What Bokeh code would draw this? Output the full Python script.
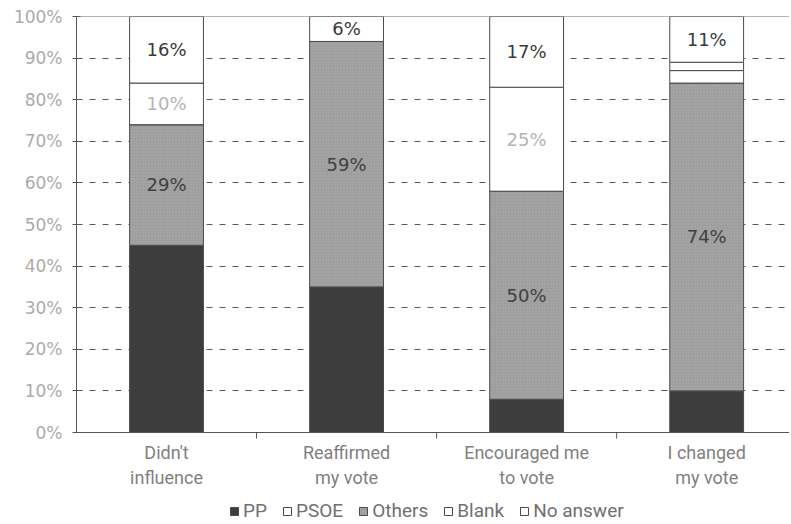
from bokeh.plotting import figure
from bokeh.models import Range1d, FixedTicker, Span, Legend, LegendItem, ColumnDataSource
from bokeh.embed import file_html
from bokeh.resources import INLINE
from bokeh.core.properties import value

# ---- data ----
categories = ["Didn't\ninfluence", "Reaffirmed\nmy vote", "Encouraged me\nto vote", "I changed\nmy vote"]
pp = [45, 35, 8, 10]
others = [29, 59, 50, 74]
psoe = [0, 0, 0, 3]
blank = [10, 0, 25, 2]
no_answer = [16, 6, 17, 11]
y_ticks = [0, 10, 20, 30, 40, 50, 60, 70, 80, 90, 100]
y_tick_labels = ["0%", "10%", "20%", "30%", "40%", "50%", "60%", "70%", "80%", "90%", "100%"]
legend_labels = ["PP", "PSOE", "Others", "Blank", "No answer"]

# ---- styling / layout ----
stack_order = ["pp", "others", "psoe", "blank", "no_answer"]
colors = {"pp": "#3d3d3d", "others": "#9e9e9e", "psoe": "#ffffff", "blank": "#ffffff", "no_answer": "#ffffff"}
n = len(categories)
x = [i + 0.5 for i in range(n)]
bounds = [i for i in range(1, n)]
src = ColumnDataSource(dict(x=x, pp=pp, others=others, psoe=psoe, blank=blank, no_answer=no_answer))

PX = 4.16             # pixels per percentage point
BOTTOM_PX = 90        # room under the 0 line for category labels and legend
y_low = -BOTTOM_PX / PX

p = figure(frame_width=713, frame_height=int(416 + BOTTOM_PX),
           x_range=Range1d(0, 3.96), y_range=Range1d(y_low, 100),
           x_axis_location=None,
           output_backend="svg", toolbar_location=None,
           min_border_left=76, min_border_top=16, min_border_right=0, min_border_bottom=0,
           background_fill_color="white", border_fill_color="white")
p.outline_line_color = None

renderers = p.vbar_stack(stack_order, x="x", width=0.41, source=src,
                         fill_color=[colors[s] for s in stack_order],
                         line_color="#4a4a4a", line_width=1)
rmap = dict(zip(stack_order, renderers))
g = rmap["others"].glyph
g.hatch_pattern = "dot"
g.hatch_color = "#b4b4b4"
g.hatch_scale = 3
g.hatch_alpha = 0.6

# segment labels at segment centres
lab_x, lab_y, lab_t, lab_c = [], [], [], []
for i in range(n):
    base = 0
    for s, vals in zip(stack_order, [pp, others, psoe, blank, no_answer]):
        v = vals[i]
        if s not in ("pp", "psoe") and v >= 5:
            lab_x.append(x[i]); lab_y.append(base + v / 2); lab_t.append(f"{v}%")
            lab_c.append("#b4b4b4" if s == "blank" else ("#3a3a3a" if s == "no_answer" else "#404040"))
        base += v
p.text(x=lab_x, y=lab_y, text=lab_t, text_color=lab_c, text_align="center",
       text_baseline="middle", text_font=value("DejaVu Sans"), text_font_size="18px")

# top line and category axis line
p.add_layout(Span(location=100, dimension="width", line_color="#6a6a6a", line_width=1))
p.add_layout(Span(location=0, dimension="width", line_color="#555555", line_width=1))

# category boundary ticks
p.segment(x0=bounds, y0=[0] * len(bounds), x1=bounds, y1=[-6 / PX] * len(bounds),
          line_color="#555555", line_width=1)

# category labels (two lines each)
p.text(x=x, y=[-9 / PX] * n, text=categories, text_align="center", text_baseline="top",
       text_color="#808080", text_font=value("Roboto"), text_font_size="18px",
       text_line_height=1.2)

# y axis
p.yaxis.ticker = FixedTicker(ticks=y_ticks)
p.yaxis.bounds = (0, 100)
p.yaxis.major_label_overrides = {t: l for t, l in zip(y_ticks, y_tick_labels)}
p.yaxis.minor_tick_line_color = None
p.yaxis.major_tick_in = 4
p.yaxis.major_tick_out = 4
p.yaxis.major_tick_line_color = "#555555"
p.yaxis.axis_line_color = "#555555"
p.yaxis.major_label_text_color = "#ababab"
p.yaxis.major_label_text_font = "DejaVu Sans"
p.yaxis.major_label_text_font_size = "17px"
p.yaxis.major_label_standoff = 10

p.xgrid.visible = False
p.ygrid.ticker = FixedTicker(ticks=y_ticks)
p.ygrid.grid_line_color = "#5a5a5a"
p.ygrid.grid_line_dash = "6 7"
p.ygrid.grid_line_width = 1

legend_keys = ["pp", "psoe", "others", "blank", "no_answer"]
legend = Legend(items=[LegendItem(label=l, renderers=[rmap[k]]) for l, k in zip(legend_labels, legend_keys)],
                orientation="horizontal", location=(153, 0),
                label_text_font="Roboto", label_text_font_size="19px",
                label_text_color="#707070", glyph_width=10, glyph_height=10,
                label_standoff=4, spacing=15, padding=0, margin=0,
                label_height=19,
                border_line_color=None, background_fill_alpha=0)
p.add_layout(legend, "center")

open("out.html", "w").write(file_html(p, INLINE))
